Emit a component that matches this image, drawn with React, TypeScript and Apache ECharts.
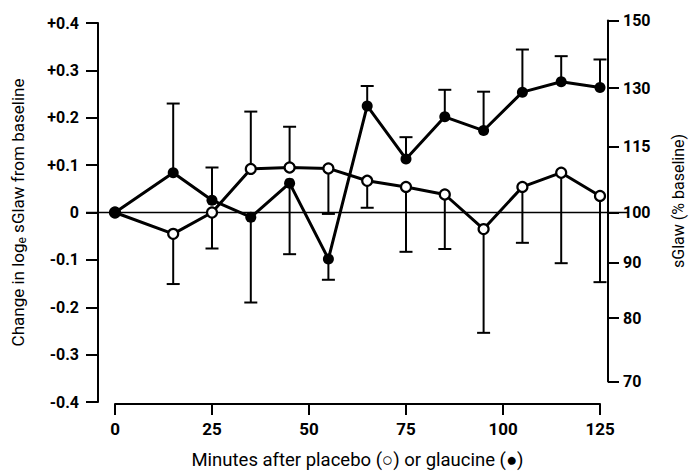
import React, { useEffect, useRef } from "react";
import * as echarts from "echarts";

const minutes = [0, 15, 25, 35, 45, 55, 65, 75, 85, 95, 105, 115, 125];
const glaucine = [0, 0.084, 0.026, -0.01, 0.062, -0.098, 0.225, 0.113, 0.202, 0.173, 0.254, 0.276, 0.264];
const glaucineBarEnd = [null, 0.23, 0.095, -0.19, -0.088, -0.142, 0.267, 0.159, 0.259, 0.255, 0.344, 0.33, 0.323];
const placebo = [0, -0.045, 0.0, 0.092, 0.095, 0.093, 0.067, 0.054, 0.038, -0.035, 0.054, 0.084, 0.035];
const placeboBarEnd = [null, -0.151, -0.076, 0.213, 0.181, -0.003, 0.01, -0.083, -0.077, -0.254, -0.064, -0.107, -0.147];
const rightTickLabels = [70, 80, 90, 100, 115, 130, 150];
const xTickStep = 25;
const leftTickStep = 0.1;

const FONT = "Roboto, 'Liberation Sans', sans-serif";

function barRows(vals: number[], ends: (number | null)[]) {
  const rows: number[][] = [];
  minutes.forEach((t, i) => {
    const e = ends[i];
    if (e !== null && e !== undefined) rows.push([t, vals[i], e]);
  });
  return rows;
}

function errorBarRender(params: any, api: any) {
  const t = api.value(0);
  const v = api.value(1);
  const e = api.value(2);
  const p0 = api.coord([t, v]);
  const p1 = api.coord([t, e]);
  const hw = 6.5;
  return {
    type: "group",
    children: [
      { type: "line", shape: { x1: p0[0], y1: p0[1], x2: p1[0], y2: p1[1] }, style: { stroke: "#000", lineWidth: 2 } },
      { type: "line", shape: { x1: p1[0] - hw, y1: p1[1], x2: p1[0] + hw, y2: p1[1] }, style: { stroke: "#000", lineWidth: 2 } },
    ],
  };
}

export default function App() {
  const ref = useRef<HTMLDivElement>(null);
  useEffect(() => {
    const chart = echarts.init(ref.current!, null, { renderer: "svg" });
    const rightVals = rightTickLabels.map((v) => Math.log(v / 100));
    const option: any = {
      animation: false,
      backgroundColor: "#fff",
      grid: [
        { left: 115, right: 94, top: 23, bottom: 72 },
        { left: 115, right: 94, top: 20.4, bottom: 92.5 },
        { left: 86, right: 66, top: 23, bottom: 72 },
      ],
      xAxis: [
        {
          gridIndex: 0,
          type: "value",
          min: 0,
          max: 125,
          interval: xTickStep,
          position: "bottom",
          offset: 2,
          axisLine: { show: true, onZero: false, lineStyle: { color: "#000", width: 2 } },
          axisTick: { show: true, inside: false, length: 11, lineStyle: { color: "#000", width: 2 } },
          axisLabel: { color: "#000", fontFamily: FONT, fontWeight: "bold", fontSize: 17, margin: 16 },
          splitLine: { show: false },
          name: "Minutes after placebo (\u25CB) or glaucine (\u25CF)",
          nameLocation: "middle",
          nameGap: 46,
          nameTextStyle: { color: "#000", fontFamily: FONT, fontSize: 18.5 },
        },
        { gridIndex: 1, type: "value", min: 0, max: 125, show: false, axisLine: { onZero: false } },
        { gridIndex: 2, type: "value", min: 0, max: 1, show: false, axisLine: { onZero: false } },
      ],
      yAxis: [
        {
          gridIndex: 0,
          type: "value",
          min: -0.4,
          max: 0.4,
          interval: leftTickStep,
          position: "left",
          offset: 17,
          axisLine: { show: true, onZero: false, lineStyle: { color: "#000", width: 2 } },
          axisTick: { show: true, inside: false, length: 12, lineStyle: { color: "#000", width: 2 } },
          axisLabel: {
            color: "#000",
            fontFamily: FONT,
            fontWeight: "bold",
            fontSize: 16,
            margin: 19,
            formatter: (v: number) => {
              const r = Math.round(v * 10) / 10;
              if (r === 0) return "0";
              return r > 0 ? "+" + r.toFixed(1) : r.toFixed(1);
            },
          },
          splitLine: { show: false },
          name: "{a|Change in log}{s|e}{a| sGlaw from baseline}",
          nameLocation: "middle",
          nameRotate: 90,
          nameGap: 70,
          nameTextStyle: {
            color: "#000",
            fontFamily: FONT,
            fontSize: 17,
            rich: {
              a: { color: "#000", fontFamily: FONT, fontSize: 17 },
              s: { color: "#000", fontFamily: FONT, fontSize: 12, padding: [8, 0, 0, 0] },
            },
          },
        },
        {
          gridIndex: 1,
          type: "value",
          min: Math.log(0.7),
          max: Math.log(1.5),
          position: "right",
          offset: 17,
          axisLine: { show: true, onZero: false, lineStyle: { color: "#000", width: 2 } },
          axisTick: {
            show: true,
            inside: false,
            length: 11,
            customValues: rightVals,
            lineStyle: { color: "#000", width: 2 },
          },
          axisLabel: {
            color: "#000",
            fontFamily: FONT,
            fontWeight: "bold",
            fontSize: 16,
            margin: 15,
            customValues: rightVals,
            formatter: (v: number) => String(Math.round(100 * Math.exp(v))),
          },
          splitLine: { show: false },
          name: "sGlaw (% baseline)",
          nameLocation: "middle",
          nameRotate: 90,
          nameGap: 62,
          nameTextStyle: { color: "#000", fontFamily: FONT, fontSize: 16 },
        },
        { gridIndex: 2, type: "value", min: -0.4, max: 0.4, show: false, axisLine: { onZero: false } },
      ],
      series: [
        {
          type: "line",
          xAxisIndex: 2,
          yAxisIndex: 2,
          data: [
            [0, 0],
            [1, 0],
          ],
          showSymbol: false,
          symbol: "none",
          lineStyle: { color: "#000", width: 1.5 },
          z: 1,
          silent: true,
        },
        {
          type: "custom",
          name: "placebo SE",
          xAxisIndex: 0,
          yAxisIndex: 0,
          data: barRows(placebo, placeboBarEnd),
          encode: { x: 0, y: 1 },
          renderItem: errorBarRender,
          z: 2,
          silent: true,
        },
        {
          type: "custom",
          name: "glaucine SE",
          xAxisIndex: 0,
          yAxisIndex: 0,
          data: barRows(glaucine, glaucineBarEnd),
          encode: { x: 0, y: 1 },
          renderItem: errorBarRender,
          z: 2,
          silent: true,
        },
        {
          type: "line",
          name: "placebo",
          xAxisIndex: 0,
          yAxisIndex: 0,
          data: minutes.map((t, i) => [t, placebo[i]]),
          symbol: "circle",
          symbolSize: 10,
          showAllSymbol: true,
          lineStyle: { color: "#000", width: 3 },
          itemStyle: { color: "#fff", borderColor: "#000", borderWidth: 2.2 },
          z: 3,
          silent: true,
        },
        {
          type: "line",
          name: "glaucine",
          xAxisIndex: 0,
          yAxisIndex: 0,
          data: minutes.map((t, i) => [t, glaucine[i]]),
          symbol: "circle",
          symbolSize: 11,
          showAllSymbol: true,
          lineStyle: { color: "#000", width: 3 },
          itemStyle: { color: "#000", borderColor: "#000", borderWidth: 0 },
          z: 4,
          silent: true,
        },
      ],
    };
    chart.setOption(option);
    return () => chart.dispose();
  }, []);
  return (
    <div
      ref={ref}
      style={{ position: "fixed", left: 0, top: 0, width: 694, height: 474 }}
    />
  );
}
